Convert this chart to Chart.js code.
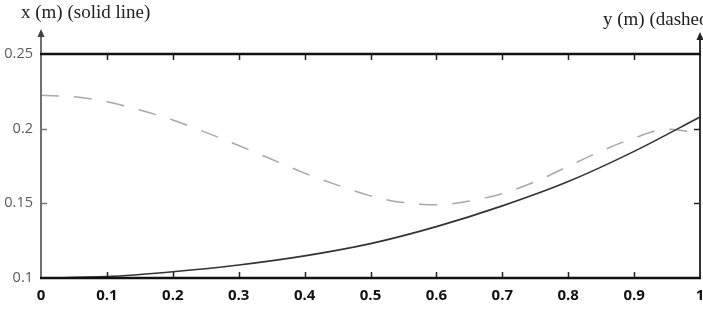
<!DOCTYPE html>
<html>
<head>
<meta charset="utf-8">
<script src="https://cdn.jsdelivr.net/npm/chart.js@4/dist/chart.umd.min.js"></script>
<style>
html,body{margin:0;padding:0;background:#fff;}
#wrap{width:703px;height:309px;position:relative;}
</style>
</head>
<body>
<div id="wrap"><canvas id="c" width="703" height="309"></canvas></div>
<script>
// ---- data ----
const solidT = [0, 0.1, 0.2, 0.3, 0.4, 0.5, 0.6, 0.7, 0.8, 0.9, 1.0];
const solidX = [0.1, 0.1009, 0.1042, 0.1087, 0.1148, 0.1230, 0.1344, 0.1483, 0.1646, 0.1848, 0.2078];
const dashT = [0, 0.05, 0.1, 0.15, 0.2, 0.25, 0.3, 0.35, 0.4, 0.45, 0.5, 0.55, 0.6, 0.65, 0.7, 0.75, 0.8, 0.85, 0.9, 0.95, 1.0];
const dashY = [0.2223, 0.2213, 0.218, 0.2125, 0.2058, 0.1975, 0.1887, 0.1795, 0.1702, 0.1622, 0.1550, 0.1505, 0.1490, 0.1515, 0.1565, 0.1645, 0.1748, 0.1850, 0.1937, 0.1997, 0.197];
const xTickValues = [0, 0.1, 0.2, 0.3, 0.4, 0.5, 0.6, 0.7, 0.8, 0.9, 1];
const xTickLabels = ['0', '0.1', '0.2', '0.3', '0.4', '0.5', '0.6', '0.7', '0.8', '0.9', '1'];
const yTickValues = [0.1, 0.15, 0.2, 0.25];
const yTickLabels = ['0.1', '0.15', '0.2', '0.25'];
const leftTitle = 'x (m) (solid line)';
const rightTitle = 'y (m) (dashed line)';

const axesPlugin = {
  id: 'axesPlugin',
  afterDraw(chart) {
    const ctx = chart.ctx;
    const xs = chart.scales.x, ys = chart.scales.y;
    const L = xs.getPixelForValue(0), R = xs.getPixelForValue(1);
    const T = ys.getPixelForValue(0.25), B = ys.getPixelForValue(0.1);
    ctx.save();
    // ticks
    ctx.lineWidth = 1.5;
    ctx.strokeStyle = '#222';
    xTickValues.forEach(v => {
      if (v === 0 || v === 1) return;
      const px = Math.round(xs.getPixelForValue(v)) + 0.5;
      ctx.beginPath(); ctx.moveTo(px, B); ctx.lineTo(px, B - 6); ctx.stroke();
      ctx.beginPath(); ctx.moveTo(px, T); ctx.lineTo(px, T + 6); ctx.stroke();
    });
    yTickValues.forEach(v => {
      if (v === 0.1 || v === 0.25) return;
      const py = Math.round(ys.getPixelForValue(v)) + 0.5;
      ctx.strokeStyle = '#777';
      ctx.beginPath(); ctx.moveTo(L, py); ctx.lineTo(L + 6, py); ctx.stroke();
      ctx.strokeStyle = '#222';
      ctx.beginPath(); ctx.moveTo(R, py); ctx.lineTo(R - 6, py); ctx.stroke();
    });
    // left axis with arrow
    ctx.strokeStyle = '#707070'; ctx.fillStyle = '#404040';
    ctx.lineWidth = 2;
    ctx.beginPath(); ctx.moveTo(L, B + 1); ctx.lineTo(L, 34); ctx.stroke();
    ctx.beginPath(); ctx.moveTo(L, 29); ctx.lineTo(L - 3.5, 37); ctx.lineTo(L + 3.5, 37); ctx.closePath(); ctx.fill();
    // right axis with arrow
    ctx.strokeStyle = '#333'; ctx.fillStyle = '#222';
    ctx.beginPath(); ctx.moveTo(R, B + 1); ctx.lineTo(R, 38); ctx.stroke();
    ctx.beginPath(); ctx.moveTo(R, 32); ctx.lineTo(R - 3.5, 40); ctx.lineTo(R + 3.5, 40); ctx.closePath(); ctx.fill();
    // top and bottom lines
    ctx.strokeStyle = '#111'; ctx.lineWidth = 2.5;
    ctx.beginPath(); ctx.moveTo(L - 1, T); ctx.lineTo(R + 1, T); ctx.stroke();
    ctx.beginPath(); ctx.moveTo(L - 1, B); ctx.lineTo(R + 1, B); ctx.stroke();
    // titles
    ctx.fillStyle = '#222';
    ctx.font = '19px "Liberation Serif", "DejaVu Serif", serif';
    ctx.textBaseline = 'alphabetic';
    ctx.textAlign = 'left';
    ctx.fillText(leftTitle, 21, 18);
    ctx.fillText(rightTitle, 603, 25);
    ctx.restore();
  }
};

new Chart(document.getElementById('c'), {
  type: 'line',
  data: {
    datasets: [
      {
        label: leftTitle,
        data: solidT.map((t, i) => ({x: t, y: solidX[i]})),
        borderColor: '#333',
        borderWidth: 1.6,
        pointRadius: 0,
        tension: 0.4,
        cubicInterpolationMode: 'monotone',
        yAxisID: 'y'
      },
      {
        label: rightTitle,
        data: dashT.map((t, i) => ({x: t, y: dashY[i]})),
        borderColor: '#a8a8a8',
        borderWidth: 1.5,
        borderDash: [18, 15],
        pointRadius: 0,
        tension: 0.4,
        cubicInterpolationMode: 'monotone',
        yAxisID: 'y2'
      }
    ]
  },
  options: {
    responsive: false,
    animation: false,
    layout: {autoPadding: false, padding: {top: 54, right: 3, left: 0, bottom: 0}},
    plugins: {legend: {display: false}, tooltip: {enabled: false}, title: {display: false}},
    scales: {
      x: {
        type: 'linear', min: 0, max: 1, position: 'bottom',
        grid: {display: false, drawTicks: false}, border: {display: false},
        afterBuildTicks: s => { s.ticks = xTickValues.map(v => ({value: v})); },
        afterFit: s => { s.height = 31; s.paddingLeft = 0; s.paddingRight = 0; },
        ticks: {
          autoSkip: false, maxRotation: 0, padding: 9,
          color: '#111',
          font: {family: '"Open Sans", "DejaVu Sans", sans-serif', size: 15, weight: 'bold'},
          callback: (v) => { const i = xTickValues.findIndex(t => Math.abs(t - v) < 1e-9); return i >= 0 ? xTickLabels[i] : ''; }
        }
      },
      y: {
        type: 'linear', min: 0.1, max: 0.25, position: 'left',
        grid: {display: false, drawTicks: false}, border: {display: false},
        afterBuildTicks: s => { s.ticks = yTickValues.map(v => ({value: v})); },
        afterFit: s => { s.width = 41; s.paddingTop = 0; s.paddingBottom = 0; },
        ticks: {
          padding: 8, color: '#5a5a5a',
          font: {family: '"Open Sans", "DejaVu Sans", sans-serif', size: 14.5},
          callback: (v) => { const i = yTickValues.findIndex(t => Math.abs(t - v) < 1e-9); return i >= 0 ? yTickLabels[i] : ''; }
        }
      },
      y2: {
        type: 'linear', min: 0.1, max: 0.25, position: 'right', display: false
      }
    }
  },
  plugins: [axesPlugin]
});
</script>
</body>
</html>
